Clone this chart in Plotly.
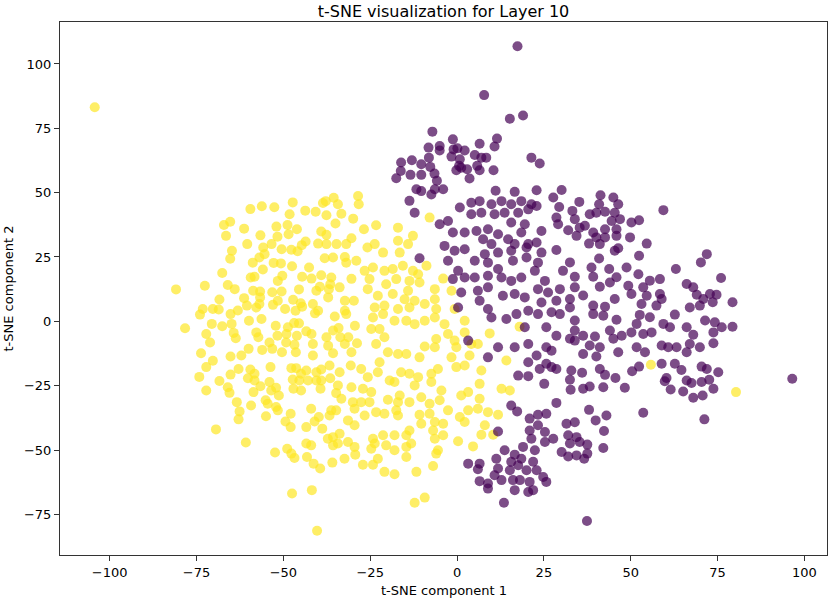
import plotly.graph_objects as go

# t-SNE embedding (two classes)
yellow_pts = [
    (-59.5, 43.6), (-56.2, 44.7), (-52.6, 44.3), (-47.3, 46.2), (-43.7, 43.0), (-40.7, 42.6),
    (-37.8, 46.7), (-35.5, 48.0), (-38.6, 46.0), (-34.3, 45.5), (-33.3, 41.8), (-37.6, 41.2),
    (-48.2, 41.6), (-67.1, 37.4), (-65.3, 38.7), (-61.3, 36.0), (-52.0, 36.8), (-48.8, 37.4),
    (-46.1, 35.8), (-48.5, 33.8), (-56.6, 33.4), (-51.7, 32.9), (-66.5, 33.2), (-60.4, 30.0),
    (-55.8, 28.7), (-53.4, 30.0), (-50.5, 28.0), (-47.7, 27.8), (-45.9, 27.2), (-44.7, 29.6),
    (-43.6, 31.0), (-40.0, 30.2), (-37.6, 30.0), (-34.7, 30.0), (-31.9, 30.0), (-30.4, 32.3),
    (-39.1, 34.9), (-37.6, 33.6), (-35.0, 38.0), (-29.9, 39.9), (-28.5, 48.7), (-28.3, 45.5),
    (-64.8, 27.4), (-65.3, 24.3), (-58.8, 22.8), (-56.9, 24.8), (-55.4, 26.1), (-52.8, 22.7),
    (-50.7, 22.5), (-47.5, 21.4), (-42.6, 20.9), (-38.1, 24.5), (-35.7, 24.8), (-32.3, 25.0),
    (-31.9, 22.8), (-29.0, 23.5), (-55.9, 20.1), (-67.6, 18.8), (-59.4, 17.0), (-58.3, 17.3),
    (-51.6, 15.7), (-50.3, 17.7), (-44.6, 17.3), (-41.9, 16.6), (-39.1, 17.9), (-36.2, 17.0),
    (-36.5, 14.4), (-33.8, 13.2), (-30.4, 16.5), (-80.9, 12.4), (-72.6, 13.8), (-66.0, 14.1),
    (-64.0, 12.5), (-58.7, 11.9), (-56.7, 11.6), (-53.2, 11.3), (-50.5, 11.6), (-45.5, 12.4),
    (-40.5, 11.9), (-39.5, 13.4), (-36.9, 12.5), (-37.1, 9.3), (-68.4, 8.5), (-61.3, 9.0),
    (-56.7, 9.3), (-51.6, 8.0), (-47.2, 8.4), (-45.0, 7.0), (-44.6, 5.7), (-41.5, 6.7),
    (-40.0, 4.1), (-35.2, 1.9), (-32.3, 8.0), (-29.7, 8.0), (-73.2, 4.8), (-70.3, 4.8),
    (-68.6, 4.6), (-74.0, 2.6), (-65.2, 2.8), (-63.1, 4.2), (-60.5, 6.1), (-57.8, 5.4),
    (-56.9, 6.7), (-53.0, 6.4), (-49.5, 4.8), (-46.5, 4.1), (-32.3, 4.1), (-31.9, 2.8),
    (-78.3, -2.7), (-70.6, -1.0), (-67.6, -1.9), (-64.9, -1.0), (-59.9, 0.2), (-56.3, 0.9),
    (-52.2, -1.7), (-48.7, -2.3), (-46.9, -0.7), (-45.5, -0.8), (-43.4, -3.9), (-40.9, 3.1),
    (-35.7, -3.6), (-34.1, -2.6), (-29.4, -1.7), (-72.2, -4.9), (-64.3, -4.5), (-63.7, -6.6),
    (-57.8, -4.3), (-57.2, -6.2), (-51.7, -5.6), (-49.1, -4.9), (-46.1, -5.6), (-41.9, -4.9),
    (-37.6, -6.2), (-33.6, -6.2), (-31.3, -6.2), (-71.1, -8.2), (-54.0, -8.2), (-49.2, -8.2),
    (-46.8, -9.1), (-41.5, -8.8), (-37.1, -9.5), (-32.3, -8.8), (-28.8, -8.5), (-73.7, -12.4),
    (-65.2, -13.7), (-62.1, -13.3), (-60.0, -10.7), (-56.1, -11.1), (-53.2, -10.7), (-50.4, -12.0),
    (-46.4, -12.0), (-41.5, -13.3), (-35.7, -12.4), (-30.4, -12.0), (-70.3, -15.3),
    (-74.2, -21.6), (-72.2, -17.8), (-65.2, -20.7), (-62.9, -18.5), (-59.5, -18.7), (-58.3, -20.4),
    (-60.2, -22.1), (-58.3, -23.0), (-56.6, -25.2), (-53.7, -17.8), (-54.0, -23.6), (-72.2, -26.9),
    (-68.4, -23.2), (-66.0, -25.6), (-65.5, -27.8), (-63.4, -31.4), (-62.6, -35.0), (-62.9, -38.1),
    (-59.3, -32.7), (-58.6, -27.5), (-55.1, -30.7), (-54.5, -32.0), (-53.5, -26.9), (-52.1, -25.8),
    (-51.3, -28.8), (-52.1, -33.3), (-51.6, -34.6), (-55.0, -36.9), (-49.4, -38.9), (-47.9, -35.9),
    (-47.9, -41.1), (-47.7, -18.2), (-46.3, -18.2), (-47.3, -22.6), (-44.9, -20.4), (-45.4, -23.0),
    (-43.4, -19.1), (-42.9, -23.0), (-40.5, -19.8), (-40.5, -23.0), (-39.1, -18.7), (-39.1, -23.0),
    (-47.1, -26.2), (-44.9, -26.9), (-39.3, -26.2), (-36.7, -17.2), (-36.5, -22.1), (-33.8, -19.8),
    (-34.3, -24.9), (-30.4, -25.6), (-34.8, -27.9), (-33.3, -30.1), (-30.6, -17.2), (-30.0, -31.4),
    (-29.5, -34.0), (-36.2, -34.6), (-34.8, -34.6), (-36.7, -36.6), (-42.0, -34.0), (-39.8, -37.2),
    (-41.0, -38.9), (-43.4, -41.1), (-38.8, -41.7), (-31.4, -38.5), (-29.5, -40.4), (-33.8, -43.7),
    (-37.2, -45.6), (-35.7, -45.0), (-35.7, -48.2), (-34.3, -47.5), (-31.4, -46.9), (-29.5, -48.8),
    (-29.3, -51.8), (-32.4, -53.4), (-35.9, -54.9), (-43.4, -47.5), (-42.0, -48.2), (-69.4, -42.0),
    (-60.8, -47.1), (-52.4, -51.0), (-48.9, -49.5), (-47.7, -51.4), (-46.8, -53.1), (-43.2, -52.7),
    (-41.3, -55.3), (-39.4, -57.2), (-47.5, -66.9), (-41.8, -65.6), (-40.3, -81.4),
    (-23.3, 37.3), (-26.8, 35.8), (-25.8, 28.7), (-23.7, 30.0), (-21.3, 26.7), (-17.0, 36.4),
    (-17.0, 31.3), (-14.1, 30.0), (-12.7, 33.2), (-16.5, 26.7), (-7.9, 40.3), (-24.2, 20.9),
    (-26.6, 19.6), (-25.2, 16.4), (-20.9, 19.6), (-18.5, 20.3), (-15.6, 21.6), (-12.7, 19.6),
    (-8.8, 21.6), (-11.2, 18.3), (-4.0, 16.6), (-20.4, 14.4), (-17.5, 16.4), (-13.7, 15.7),
    (-10.8, 15.1), (-14.1, 11.9), (-6.4, 12.5), (-1.6, 11.9), (-25.7, 12.5), (-22.8, 9.9),
    (-18.5, 10.6), (-15.1, 8.6), (-12.2, 8.0), (-9.3, 6.7), (-6.4, 8.6), (-23.7, 5.4),
    (-20.9, 6.1), (-17.0, 4.8), (-13.7, 5.4), (-6.0, 4.8), (-24.2, 1.5), (-21.3, 2.8),
    (-18.0, 0.2), (-14.6, 0.2), (-12.2, -1.1), (-9.3, 0.2), (-6.4, 1.5), (-3.6, -1.1),
    (-0.7, 4.8), (2.2, 0.2), (-2.6, -4.9), (2.2, -4.3), (4.1, -8.8), (6.0, -8.8),
    (9.4, -4.7), (18.0, -2.1), (-24.7, -3.0), (-22.3, -3.0), (-20.9, -6.2), (-23.3, -8.8),
    (-19.9, -12.0), (-17.0, -12.7), (-14.6, -12.7), (-10.8, -14.0), (-9.3, -9.8), (-6.0, -6.9),
    (-6.4, -10.1), (-0.7, -7.5), (-0.2, -10.1), (-1.6, -14.0), (3.6, -13.3),
    (-27.6, -18.5), (-25.7, -21.7), (-22.8, -19.8), (-22.3, -15.9), (-19.4, -23.0), (-18.0, -23.6),
    (-16.1, -19.8), (-13.7, -20.4), (-11.2, -21.7), (-12.2, -24.9), (-7.4, -23.6), (-7.4, -20.4),
    (-5.5, -18.5), (-0.2, -17.8), (2.2, -17.2), (7.0, -19.1), (6.5, -24.3), (12.8, -26.2),
    (15.2, -26.9), (14.2, -15.2), (-27.1, -26.2), (-24.7, -27.5), (-27.6, -31.4), (-25.2, -31.4),
    (-19.9, -30.5), (-17.0, -31.4), (-13.7, -31.4), (-16.5, -28.8), (-10.3, -29.5), (-7.9, -32.0),
    (-4.5, -26.9), (-5.0, -30.7), (1.2, -28.8), (3.2, -27.5), (6.5, -30.1), (-2.6, -34.6),
    (3.2, -34.6), (6.0, -34.0), (8.9, -35.3), (11.8, -36.3), (0.8, -37.2), (2.2, -39.1),
    (8.0, -40.4), (7.0, -44.1), (10.4, -44.1), (-26.6, -36.6), (-23.3, -35.3), (-20.9, -35.9),
    (-17.0, -36.6), (-17.5, -34.6), (-10.8, -36.3), (-10.3, -39.8), (-7.9, -35.9), (-6.4, -39.1),
    (-4.0, -39.8), (-24.2, -45.6), (-21.3, -44.3), (-23.7, -47.5), (-20.4, -48.2), (-18.0, -44.3),
    (-14.6, -44.3), (-13.7, -42.4), (-6.9, -42.4), (-6.4, -45.6), (-4.0, -44.3), (0.3, -46.6),
    (4.6, -48.6), (-24.7, -49.5), (-18.0, -50.1), (-14.6, -48.8), (-13.2, -47.5), (-5.5, -50.1),
    (-6.0, -51.4), (-14.6, -52.7), (-22.8, -53.4), (-27.1, -55.7), (-24.2, -55.7), (-20.9, -58.5),
    (-18.0, -59.4), (-11.7, -58.5), (-6.9, -56.2), (-12.2, -70.5), (-9.3, -68.5),
    (55.8, -16.9), (80.3, -27.5), (-104.3, 83.2),
]

purple_pts = [
    (-11.7, 51.3), (-7.4, 49.3), (-6.4, 51.3), (-4.0, 51.3), (-10.3, 50.6), (-13.7, 46.8),
    (-12.2, 42.2), (0.8, 44.2), (4.1, 46.1), (6.5, 46.7), (4.1, 41.6), (7.0, 42.2),
    (9.9, 45.5), (12.8, 46.7), (15.6, 45.5), (18.5, 46.7), (21.4, 45.5), (22.9, 50.9),
    (10.8, 41.6), (13.7, 42.2), (17.6, 42.2), (20.5, 43.5), (22.9, 44.8), (-5.0, 37.7),
    (-2.6, 39.0), (-1.2, 34.5), (2.2, 34.5), (5.6, 35.1), (8.9, 35.8), (11.8, 33.8),
    (14.7, 31.9), (18.5, 34.5), (15.6, 38.4), (19.5, 37.7), (24.3, 35.1), (7.5, 31.9),
    (9.9, 30.0), (16.6, 30.0), (20.5, 30.0), (22.9, 30.6), (-3.6, 29.3), (-0.7, 27.4),
    (2.2, 28.0), (8.0, 26.1), (11.8, 26.7), (15.6, 27.4), (20.0, 28.7), (24.3, 26.7),
    (-10.8, 24.5), (-2.6, 23.5), (0.3, 19.6), (5.1, 23.5), (8.9, 22.8), (11.8, 20.3),
    (16.1, 23.5), (20.0, 24.8), (23.3, 22.8), (2.2, 17.0), (-1.2, 16.4), (5.1, 17.0),
    (8.9, 17.7), (12.8, 17.0), (15.6, 15.7), (18.5, 17.0), (22.4, 19.6), (25.3, 15.7),
    (1.2, 11.2), (6.0, 11.9), (8.9, 13.2), (13.2, 9.9), (16.6, 10.6), (19.5, 9.3),
    (23.3, 12.5), (26.2, 11.2), (0.3, 5.4), (6.5, 8.0), (8.9, 4.8), (9.9, 1.5),
    (14.2, 0.9), (17.1, 2.8), (20.5, 4.1), (23.3, 2.8), (24.3, 7.3), (27.2, 3.5),
    (25.7, -2.3), (19.5, -2.3), (3.2, -7.5), (11.8, -10.1), (16.6, -10.1), (20.5, -8.8),
    (22.9, -13.3), (25.7, -10.1), (27.2, -11.4), (8.9, -14.0),
    (20.5, -15.9), (23.8, -18.5), (25.7, -16.5), (27.2, -17.8), (17.6, -21.1), (20.5, -21.3),
    (25.1, -24.3), (15.6, -32.7), (17.3, -35.0), (20.9, -37.8), (23.3, -36.3), (25.7, -35.9),
    (11.8, -42.8), (20.9, -42.4), (23.3, -40.4), (25.3, -43.0), (27.7, -45.6), (21.4, -45.6),
    (25.3, -46.9), (13.7, -50.1), (19.0, -48.8), (22.4, -50.1), (3.2, -55.3), (6.5, -55.3),
    (6.0, -57.5), (11.3, -53.4), (16.6, -51.8), (15.6, -54.6), (18.5, -53.4), (21.9, -54.6),
    (11.8, -57.2), (15.2, -57.9), (17.6, -55.9), (20.0, -57.9), (22.9, -57.9), (10.8, -59.8),
    (6.5, -62.1), (8.9, -63.0), (8.9, -65.0), (12.8, -61.7), (16.1, -61.7), (18.1, -61.7),
    (20.9, -62.4), (24.8, -60.5), (25.7, -62.4), (16.6, -65.6), (20.5, -66.3), (21.9, -65.6),
    (13.5, -70.5),
    (17.4, 106.9), (7.8, 87.9), (15.2, 78.7), (19.0, 80.0), (-7.1, 73.7), (-8.2, 67.5),
    (-5.0, 68.1), (-5.0, 66.4), (-1.2, 70.7), (-1.0, 66.8), (0.1, 67.2), (2.2, 66.4),
    (6.5, 69.0), (11.5, 71.0), (10.8, 67.9), (-8.1, 63.6), (-1.6, 64.0), (0.8, 63.0),
    (5.1, 64.6), (8.4, 63.6), (7.0, 63.6), (21.4, 63.6), (23.8, 61.3), (-16.1, 61.7),
    (-13.0, 62.6), (-10.3, 61.0), (-7.7, 60.0), (-16.2, 58.4), (-17.5, 55.6), (-13.4, 56.9),
    (-10.3, 56.9), (-6.5, 57.4), (-5.8, 54.6), (-0.2, 58.7), (1.2, 59.7), (2.9, 59.1),
    (5.8, 60.4), (6.5, 58.7), (10.5, 58.7), (3.6, 55.5), (0.6, 60.4), (11.1, 50.7),
    (16.6, 50.3),
    (30.1, 51.0), (27.7, 48.1), (29.4, 44.4), (35.2, 46.4), (41.3, 49.0), (45.0, 48.1),
    (46.4, 45.5), (40.9, 45.5), (38.2, 41.6), (40.1, 42.2), (42.6, 42.6), (45.4, 42.2),
    (46.9, 39.7), (44.5, 39.0), (33.2, 42.9), (33.9, 39.7), (28.6, 40.3), (29.1, 37.7),
    (32.0, 35.4), (35.3, 36.4), (34.4, 33.2), (36.8, 37.1), (39.2, 34.5), (42.6, 35.8),
    (40.1, 32.6), (42.6, 32.6), (45.9, 35.8), (45.9, 33.2), (50.2, 38.4), (52.4, 39.3),
    (49.8, 32.6), (54.6, 30.2), (59.4, 43.2), (38.0, 30.2), (41.1, 30.0), (45.4, 27.4),
    (46.4, 28.4), (28.6, 27.7), (40.9, 24.4), (52.4, 25.5), (32.5, 22.9), (30.5, 19.6),
    (33.9, 17.3), (38.7, 20.9), (39.2, 17.3), (43.8, 20.3), (45.9, 17.1), (48.8, 20.9),
    (52.2, 18.3), (55.5, 15.8), (58.4, 16.4), (63.0, 20.3), (71.9, 26.1), (70.2, 22.9),
    (76.0, 16.8), (29.6, 12.5), (33.9, 13.2), (41.1, 13.4), (44.0, 15.1), (49.3, 13.8),
    (53.6, 13.2), (50.2, 10.6), (45.4, 8.7), (54.6, 9.9), (58.4, 10.6), (58.9, 8.7),
    (53.1, 6.7), (57.4, 6.1), (66.1, 14.5), (68.0, 13.2), (69.0, 10.3), (70.9, 8.7),
    (72.8, 10.6), (74.7, 10.3), (67.0, 5.4), (69.9, 6.1), (73.6, 7.4), (79.3, 7.4),
    (28.6, 8.0), (32.5, 8.7), (36.3, 10.0), (32.5, 5.4), (39.2, 6.1), (42.6, 5.7),
    (39.2, 2.8), (42.1, 2.2), (45.9, 0.6), (29.6, 2.8), (33.9, 0.3), (52.6, 2.5),
    (55.5, 1.6), (62.7, 2.6), (59.4, -1.0), (61.3, -2.3), (66.1, -2.3), (68.0, -5.2),
    (51.7, -1.0), (50.2, -4.3), (53.6, -4.9), (56.0, -4.3), (44.0, -3.6), (47.4, -5.6),
    (45.0, -6.8), (71.4, 0.3), (74.2, -0.4), (76.2, -2.3), (79.3, -2.1), (73.8, -4.3),
    (33.9, -3.6), (36.3, -5.6), (39.7, -5.9), (32.5, -6.8), (28.6, -5.6), (33.9, -7.5),
    (38.2, -9.4), (41.1, -10.1), (46.4, -12.0), (51.7, -10.1), (54.1, -12.0), (58.9, -9.4),
    (60.8, -10.1), (63.2, -10.1), (67.0, -8.8), (69.9, -10.1), (73.8, -8.5), (66.1, -12.0),
    (36.3, -12.7), (40.1, -13.7),
    (28.6, -18.5), (32.9, -19.1), (36.0, -20.0), (41.1, -18.5), (42.6, -20.8), (45.6, -22.0),
    (50.4, -19.4), (52.4, -17.6), (58.9, -16.5), (62.7, -16.5), (64.6, -18.9), (60.3, -22.0),
    (59.8, -23.3), (61.5, -26.5), (66.1, -23.0), (67.5, -24.0), (65.1, -27.3), (68.0, -29.7),
    (70.4, -17.6), (71.9, -18.5), (75.2, -19.8), (72.6, -22.7), (70.4, -23.6), (73.8, -26.2),
    (70.7, -28.8), (32.5, -22.7), (32.7, -26.6), (36.3, -26.2), (38.2, -25.3), (42.1, -25.6),
    (48.3, -25.8), (28.6, -31.7), (38.0, -34.4), (39.9, -38.5), (43.0, -36.6), (42.3, -42.6),
    (53.6, -35.5), (71.2, -38.1), (31.5, -39.8), (33.9, -39.2), (32.0, -44.3), (34.4, -45.0),
    (32.5, -47.5), (35.3, -46.9), (37.5, -47.9), (30.1, -50.8), (32.0, -52.5), (34.4, -52.1),
    (36.6, -53.4), (37.5, -51.4), (42.1, -49.2),
    (96.5, -22.3), (37.4, -77.6),
]

yellow_x = [p[0] for p in yellow_pts]
yellow_y = [p[1] for p in yellow_pts]
purple_x = [p[0] for p in purple_pts]
purple_y = [p[1] for p in purple_pts]

x_ticks = [-100, -75, -50, -25, 0, 25, 50, 75, 100]
y_ticks = [-75, -50, -25, 0, 25, 50, 75, 100]


def tick_text(vals):
    return [("\u2212" + str(-v)) if v < 0 else str(v) for v in vals]


fig = go.Figure()
fig.add_trace(go.Scatter(
    x=yellow_x, y=yellow_y, mode="markers",
    marker=dict(color="#fde725", opacity=0.7, size=10, line=dict(width=0)),
))
fig.add_trace(go.Scatter(
    x=purple_x, y=purple_y, mode="markers",
    marker=dict(color="#440154", opacity=0.7, size=10, line=dict(width=0)),
))

axis_style = dict(
    showgrid=False, zeroline=False, showline=True, linecolor="#333",
    linewidth=1, mirror=True, ticks="outside", ticklen=5, tickcolor="#333",
    tickfont=dict(size=13, color="black"), automargin=False,
)
fig.update_xaxes(
    range=[-114.3, 106.5], tickvals=x_ticks, ticktext=tick_text(x_ticks),
    **axis_style,
)
fig.update_yaxes(
    range=[-90.8, 116.3], tickvals=y_ticks, ticktext=tick_text(y_ticks),
    **axis_style,
)
fig.update_layout(
    width=830, height=599,
    margin=dict(l=60, r=3, t=22, b=44),
    plot_bgcolor="white", paper_bgcolor="white",
    showlegend=False,
    font=dict(family="DejaVu Sans", color="black"),
    title=dict(
        text="t-SNE visualization for Layer 10", font=dict(size=16),
        x=0.5, xref="paper", xanchor="center",
        y=1, yref="paper", yanchor="bottom", pad=dict(b=5),
    ),
    annotations=[
        dict(text="t-SNE component 1", xref="paper", yref="paper",
             x=0.5, y=0, xanchor="center", yanchor="top", yshift=-26,
             showarrow=False, font=dict(size=13)),
        dict(text="t-SNE component 2", xref="paper", yref="paper",
             x=0, y=0.5, xanchor="center", yanchor="middle", xshift=-52,
             textangle=-90, showarrow=False, font=dict(size=13)),
    ],
)

# the page's default body margin would push the figure 8px down/right
fig.write_html(
    "out.html",
    config={"displayModeBar": False},
    post_script="document.body.style.margin='0';",
)
